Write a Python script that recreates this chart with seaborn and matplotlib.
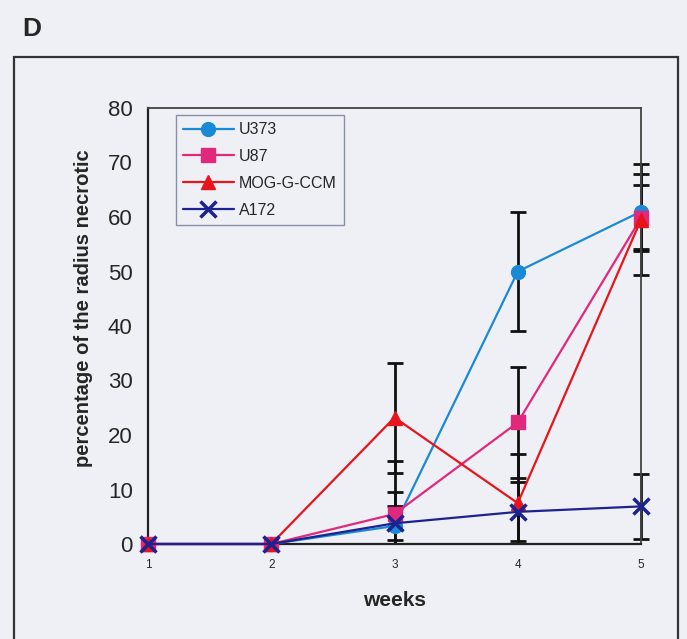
import numpy as np
import matplotlib
matplotlib.use('Agg')
import matplotlib.pyplot as plt
import seaborn as sns
from matplotlib.patches import Rectangle

# data
weeks = [1, 2, 3, 4, 5]
series_names = ['U373', 'U87', 'MOG-G-CCM', 'A172']
u373 = [0, 0, 3.3, 50, 61]
u87 = [0, 0, 5.5, 22.3, 59.8]
mog = [0, 0, 23.2, 7.5, 59.5]
a172 = [0, 0, 3.8, 5.9, 6.9]
u373_err = [0, 0, 6.2, 11, 6.9]
u87_err = [0, 0, 9.7, 10.2, 6.0]
mog_err = [0, 0, 10.1, 9.1, 10.2]
a172_err = [0, 0, 3.1, 5.4, 6.0]
y_ticks = [0, 10, 20, 30, 40, 50, 60, 70, 80]

bg = '#eef0f6'
sns.set_style('white', {'axes.facecolor': bg, 'figure.facecolor': bg})
plt.rcParams['font.family'] = ['Liberation Sans', 'DejaVu Sans']

fig = plt.figure(figsize=(6.87, 6.39), dpi=100)
fig.patch.set_facecolor(bg)
ax = fig.add_axes([148 / 687, 95 / 639, 493 / 687, 436 / 639])
ax.set_facecolor(bg)

# outer chart frame
fig.patches.append(Rectangle((14 / 687, -0.02), 664 / 687, 0.02 + (639 - 57) / 639,
                             transform=fig.transFigure, fill=False,
                             edgecolor='#333333', linewidth=1.6))
fig.text(22 / 687, 1 - 29 / 639, 'D', fontsize=19, fontweight='bold', va='center')

styles = [
    ('U373', u373, u373_err, '#1b8ad6', 'o', 10),
    ('U87', u87, u87_err, '#e0297c', 's', 10),
    ('MOG-G-CCM', mog, mog_err, '#e8141c', '^', 10),
    ('A172', a172, a172_err, '#1c2290', 'x', 11),
]

# error bars are cut off at 0 but may stick out left/right of the plot
clip = Rectangle((0.8, 0), 4.4, 100, transform=ax.transData, visible=False)
ax.add_patch(clip)
for name, vals, errs, col, mk, ms in styles:
    idx = [i for i, e in enumerate(errs) if e > 0]
    eb = ax.errorbar([weeks[i] for i in idx], [vals[i] for i in idx],
                     yerr=[errs[i] for i in idx], fmt='none', ecolor='#111111',
                     elinewidth=2, capsize=6, capthick=2, zorder=2)
    for art in eb.lines[1] + eb.lines[2]:
        art.set_clip_path(clip)

for name, vals, errs, col, mk, ms in styles:
    sns.lineplot(x=weeks, y=vals, ax=ax, color=col, marker=mk, markersize=ms,
                 markeredgecolor=col, markeredgewidth=2.5 if mk == 'x' else 1,
                 linewidth=1.6, label=name, zorder=3, clip_on=False)

ax.set_xlim(1, 5)
ax.set_ylim(0, 80)
ax.set_xticks(weeks)
ax.set_xticklabels([str(w) for w in weeks], fontsize=8.5)
ax.set_yticks(y_ticks)
ax.set_yticklabels([str(t) for t in y_ticks], fontsize=16)
ax.tick_params(axis='y', direction='out', length=5, width=1, color='#333333', pad=6)
ax.tick_params(axis='x', direction='out', length=5, width=1, color='#333333', pad=6)

for side in ['left', 'bottom']:
    ax.spines[side].set_color('#222222')
    ax.spines[side].set_linewidth(1.6)
for side in ['top', 'right']:
    ax.spines[side].set_color('#444444')
    ax.spines[side].set_linewidth(1.3)

ax.set_xlabel('weeks', fontsize=15, fontweight='bold', labelpad=14)
ax.set_ylabel('percentage of the radius necrotic', fontsize=14.5, fontweight='bold')
ax.yaxis.set_label_coords(-0.112, 0.54)

leg = ax.legend(loc='upper left', bbox_to_anchor=(0.056, 0.984), fontsize=11.5,
                frameon=True, fancybox=False, handlelength=3.2, handletextpad=0.3,
                borderpad=0.45, labelspacing=0.74, borderaxespad=0)
leg.get_frame().set_facecolor(bg)
leg.get_frame().set_edgecolor('#8a8fa8')
leg.get_frame().set_linewidth(1)
leg.get_frame().set_alpha(1)

fig.savefig('out.png', dpi=100, facecolor=bg)
